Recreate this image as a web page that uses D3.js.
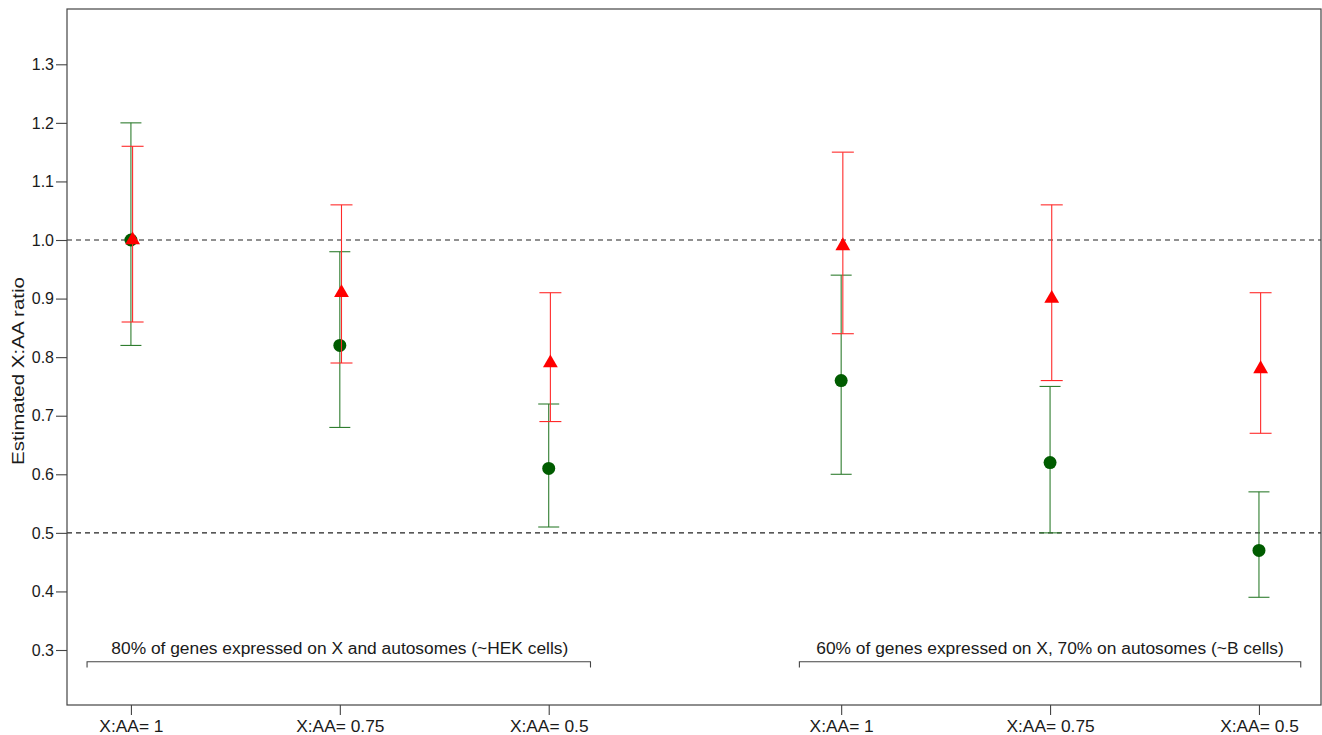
<!DOCTYPE html>
<html>
<head>
<meta charset="utf-8">
<script src="https://cdn.jsdelivr.net/npm/d3@7"></script>
<style>
  html, body { margin: 0; padding: 0; background: #fff; }
  svg { display: block; font-family: "Liberation Sans", Arial, Helvetica, sans-serif; }
</style>
</head>
<body>
<svg id="chart" width="1322" height="735"></svg>
<script>
// ---- data ----
const positions = [1, 2, 3, 4.4, 5.4, 6.4];
const xLabels = ["X:AA= 1", "X:AA= 0.75", "X:AA= 0.5", "X:AA= 1", "X:AA= 0.75", "X:AA= 0.5"];
const greenMean = [1.00, 0.82, 0.61, 0.76, 0.62, 0.47];
const greenLow  = [0.82, 0.68, 0.51, 0.60, 0.50, 0.39];
const greenHigh = [1.20, 0.98, 0.72, 0.94, 0.75, 0.57];
const redMean = [1.00, 0.91, 0.79, 0.99, 0.90, 0.78];
const redLow  = [0.86, 0.79, 0.69, 0.84, 0.76, 0.67];
const redHigh = [1.16, 1.06, 0.91, 1.15, 1.06, 0.91];
const yTicks = [0.3, 0.4, 0.5, 0.6, 0.7, 0.8, 0.9, 1.0, 1.1, 1.2, 1.3];
const refLines = [1.0, 0.5];
const groupLabels = ["80% of genes expressed on X and autosomes (~HEK cells)",
                     "60% of genes expressed on X, 70% on autosomes (~B cells)"];
const groupStart = [0.79, 4.2];
const groupEnd = [3.2, 6.6];
const groupCenter = [2, 5.4];
const bracketLevel = 0.28;
const bracketTickEnd = 0.27;
const yTitle = "Estimated X:AA ratio";

// ---- layout ----
const svg = d3.select("#chart");
const L = 67, R = 1321, T = 9, B = 705;
const x = d3.scaleLinear().domain([0.694, 6.697]).range([L, R]);
const y = d3.scaleLinear().domain([0.2061, 1.3944]).range([B, T]);
const redShift = 0.008;
const GREEN_LINE = "#2f7d2f", GREEN_PT = "#005c00", RED_LINE = "#ff2a2a", RED_PT = "#ff0000";
const AXIS = "#444";

function stretch(sel, f) {
  sel.each(function () {
    const w = this.getComputedTextLength();
    this.setAttribute("textLength", w * f);
    this.setAttribute("lengthAdjust", "spacingAndGlyphs");
  });
}

// reference dashed lines
svg.append("g").selectAll("line").data(refLines).join("line")
  .attr("x1", L).attr("x2", R)
  .attr("y1", d => y(d)).attr("y2", d => y(d))
  .attr("stroke", "#222").attr("stroke-width", 1.1).attr("stroke-dasharray", "5,4");

// box
svg.append("rect").attr("x", L).attr("y", T).attr("width", R - L).attr("height", B - T)
  .attr("fill", "none").attr("stroke", AXIS).attr("stroke-width", 1.2);

// y axis
const gy = svg.append("g").attr("transform", `translate(${L},0)`)
  .call(d3.axisLeft(y).tickValues(yTicks).tickFormat(d3.format(".1f")).tickSize(11).tickPadding(2));
gy.select(".domain").remove();
gy.selectAll(".tick line").attr("stroke", AXIS).attr("stroke-width", 1.1);
gy.selectAll(".tick text").attr("font-size", 16.5).attr("fill", "#1a1a1a")
  .attr("font-family", "Liberation Sans, Arial, sans-serif");
stretch(gy.selectAll(".tick text"), 0.97);

// x axis
const gx = svg.append("g").attr("transform", `translate(0,${B})`)
  .call(d3.axisBottom(x).tickValues(positions).tickFormat((d, i) => xLabels[i]).tickSize(10).tickPadding(6));
gx.select(".domain").remove();
gx.selectAll(".tick line").attr("stroke", AXIS).attr("stroke-width", 1.1);
gx.selectAll(".tick text").attr("font-size", 16).attr("fill", "#1a1a1a")
  .attr("font-family", "Liberation Sans, Arial, sans-serif");
stretch(gx.selectAll(".tick text"), 1.085);

// y title
svg.append("text")
  .attr("transform", `translate(24,${(T + B) / 2 + 14}) rotate(-90)`)
  .attr("text-anchor", "middle")
  .attr("font-size", 16.5).attr("fill", "#1a1a1a")
  .attr("textLength", 188).attr("lengthAdjust", "spacingAndGlyphs")
  .text(yTitle);

// group brackets
const gb = svg.append("g");
groupLabels.forEach((lab, i) => {
  const x0 = x(groupStart[i]), x1 = x(groupEnd[i]);
  const yb = y(bracketLevel), yt = y(bracketTickEnd);
  gb.append("path")
    .attr("d", `M${x0},${yt}V${yb}H${x1}V${yt}`)
    .attr("fill", "none").attr("stroke", AXIS).attr("stroke-width", 1.1);
  const t = gb.append("text")
    .attr("x", x(groupCenter[i])).attr("y", yb - 8)
    .attr("text-anchor", "middle").attr("font-size", 16).attr("fill", "#1a1a1a")
    .text(lab);
  stretch(t, 1.085);
});

// error bars
function errorBars(mean, low, high, shift, color, capHalf) {
  const g = svg.append("g").attr("stroke", color).attr("stroke-width", 1.1).attr("fill", "none");
  positions.forEach((p, i) => {
    const cx = x(p + shift);
    g.append("line").attr("x1", cx).attr("x2", cx).attr("y1", y(low[i])).attr("y2", y(high[i]));
    g.append("line").attr("x1", cx - capHalf).attr("x2", cx + capHalf).attr("y1", y(low[i])).attr("y2", y(low[i]));
    g.append("line").attr("x1", cx - capHalf).attr("x2", cx + capHalf).attr("y1", y(high[i])).attr("y2", y(high[i]));
  });
}
errorBars(greenMean, greenLow, greenHigh, 0, GREEN_LINE, 10.5);

// green points
svg.append("g").selectAll("circle").data(greenMean).join("circle")
  .attr("cx", (d, i) => x(positions[i])).attr("cy", d => y(d))
  .attr("r", 6.5).attr("fill", GREEN_PT);

errorBars(redMean, redLow, redHigh, redShift, RED_LINE, 11);

// red triangles
const tri = d3.symbol().type(d3.symbolTriangle).size(95);
svg.append("g").selectAll("path").data(redMean).join("path")
  .attr("d", tri)
  .attr("transform", (d, i) => `translate(${x(positions[i] + redShift)},${y(d)})`)
  .attr("fill", RED_PT);
</script>
</body>
</html>
